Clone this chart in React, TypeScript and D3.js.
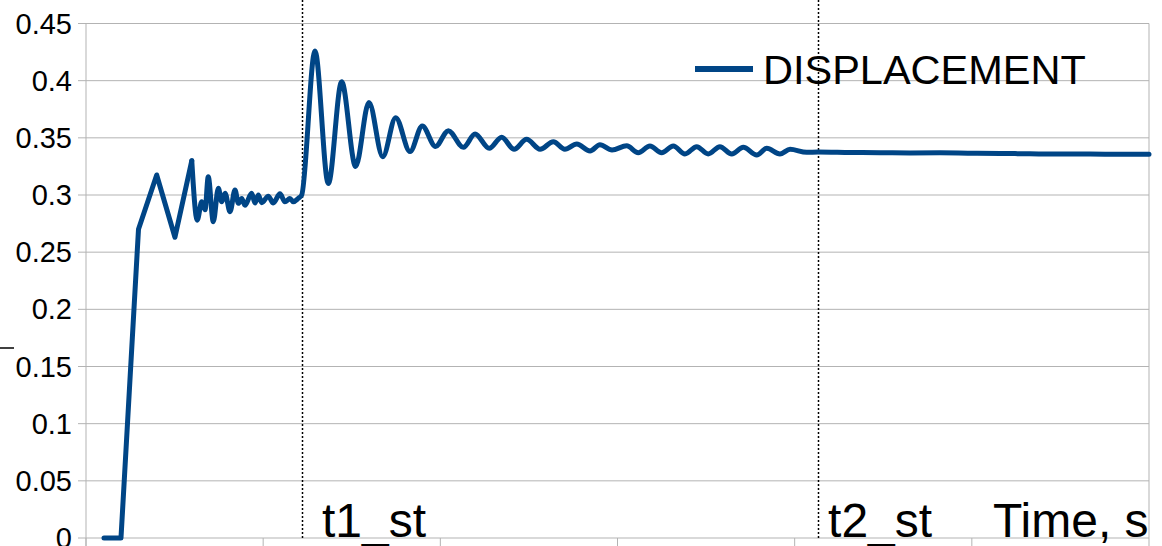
import React from "react";
import * as d3 from "d3";

// ---- data (time in chart units, displacement) ----
const TIME = [
  0.1016, 0.1975, 0.2963, 0.399, 0.502, 0.597,
  0.628, 0.653, 0.672, 0.69, 0.7185, 0.747, 0.766, 0.785, 0.813, 0.841, 0.86, 0.879, 0.897,
  0.935, 0.954, 0.973, 0.992, 1.029, 1.057, 1.095, 1.123, 1.151, 1.17, 1.198, 1.2175,
  1.2925, 1.3676, 1.443, 1.522, 1.597, 1.675, 1.748, 1.829, 1.898, 1.973, 2.045, 2.13,
  2.196, 2.276, 2.346, 2.416, 2.487, 2.563, 2.638, 2.703, 2.77, 2.845, 2.901, 2.969,
  3.052, 3.117, 3.183, 3.249, 3.315, 3.381, 3.447, 3.512, 3.578, 3.645, 3.71, 3.786,
  3.842, 3.917, 3.974, 4.068, 4.132, 4.312, 4.482, 4.651, 4.82, 4.99, 5.159, 5.328,
  5.498, 5.667, 5.836, 6.0,
];
const DISPLACEMENT = [
  0, 0, 0.27, 0.3175, 0.263, 0.33,
  0.278, 0.294, 0.287, 0.316, 0.2767, 0.306, 0.294, 0.3015, 0.2854, 0.3044, 0.2927, 0.297, 0.291,
  0.3015, 0.293, 0.3, 0.2933, 0.299, 0.293, 0.301, 0.294, 0.297, 0.294, 0.297, 0.3,
  0.426, 0.31, 0.399, 0.325, 0.381, 0.3335, 0.3676, 0.338, 0.3604, 0.3425, 0.3563, 0.3417,
  0.3534, 0.3408, 0.3505, 0.34, 0.3487, 0.34, 0.3466, 0.34, 0.3446, 0.3385, 0.344, 0.3394,
  0.343, 0.337, 0.3429, 0.337, 0.3429, 0.3359, 0.3423, 0.3359, 0.3423, 0.3359, 0.3417, 0.335,
  0.3408, 0.3359, 0.34, 0.3373, 0.3376, 0.3372, 0.337, 0.3368, 0.3369, 0.3366, 0.3364, 0.336,
  0.3358, 0.3359, 0.3356, 0.3356,
];
const LINEAR_POINTS = 6; // first points drawn as straight segments
const SERIES_NAME = "DISPLACEMENT";

const Y_TICKS = [0, 0.05, 0.1, 0.15, 0.2, 0.25, 0.3, 0.35, 0.4, 0.45];
const Y_TICK_LABELS = ["0", "0.05", "0.1", "0.15", "0.2", "0.25", "0.3", "0.35", "0.4", "0.45"];
const X_TICKS = [0, 1, 2, 3, 4, 5, 6];

const MARKER_LABELS = ["t1_st", "t2_st"];
const MARKER_TIMES = [1.219, 4.132];
const MARKER_LABEL_GAP = [20, 10];
const AXIS_TITLE = "Time, s";

export default function App() {
  const W = 1162;
  const H = 546;
  const left = 86;
  const right = 1149;
  const top = 23.5;
  const bottom = 538;
  const x = d3.scaleLinear().domain([0, 6]).range([left, right]);
  const y = d3.scaleLinear().domain([0, 0.45]).range([bottom, top]);

  const pts: [number, number][] = TIME.map((t, i) => [t, DISPLACEMENT[i]]);
  const linLine = d3
    .line<[number, number]>()
    .x((d) => x(d[0]))
    .y((d) => y(d[1]))
    .curve(d3.curveLinear);
  const smoothLine = d3
    .line<[number, number]>()
    .x((d) => x(d[0]))
    .y((d) => y(d[1]))
    .curve(d3.curveMonotoneX);

  const grid = "#b3b3b3";
  const blue = "#004586";
  const font = "'Liberation Sans', Arial, sans-serif";

  return (
    <svg
      width={W}
      height={H}
      style={{ position: "absolute", left: 0, top: 0, display: "block", background: "#fff" }}
      fontFamily={font}
    >
      {/* gridlines and y ticks */}
      {Y_TICKS.map((v, i) => (
        <g key={"y" + i}>
          <line x1={left - 8} x2={right} y1={y(v)} y2={y(v)} stroke={grid} strokeWidth={1} />
          <text x={72} y={y(v)} dy="0.35em" textAnchor="end" fontSize={29} fill="#000">
            {Y_TICK_LABELS[i]}
          </text>
        </g>
      ))}
      {/* axes frame */}
      <line x1={left} x2={left} y1={top} y2={H} stroke={grid} strokeWidth={1} />
      <line x1={right} x2={right} y1={top} y2={bottom} stroke={grid} strokeWidth={1} />
      {X_TICKS.map((t, i) => (
        <line key={"x" + i} x1={x(t)} x2={x(t)} y1={bottom} y2={H} stroke={grid} strokeWidth={1} />
      ))}

      {/* marker lines */}
      {MARKER_TIMES.map((t, i) => (
        <g key={"m" + i}>
          <line
            x1={Math.round(x(t)) + 0.5}
            x2={Math.round(x(t)) + 0.5}
            y1={0}
            y2={bottom}
            stroke="#000"
            strokeWidth={1.5}
            strokeDasharray="2 2"
          />
          <text x={x(t) + MARKER_LABEL_GAP[i]} y={537} fontSize={48} fill="#000">
            {MARKER_LABELS[i]}
          </text>
        </g>
      ))}
      <text x={993} y={537} fontSize={48} fill="#000">
        {AXIS_TITLE}
      </text>

      {/* series */}
      <path
        d={linLine(pts.slice(0, LINEAR_POINTS)) || ""}
        fill="none"
        stroke={blue}
        strokeWidth={5}
        strokeLinejoin="round"
        strokeLinecap="round"
      />
      <path
        d={smoothLine(pts.slice(LINEAR_POINTS - 1)) || ""}
        fill="none"
        stroke={blue}
        strokeWidth={5}
        strokeLinejoin="round"
        strokeLinecap="round"
      />

      {/* legend */}
      <line x1={695} x2={753} y1={69} y2={69} stroke={blue} strokeWidth={6} />
      <text x={763} y={83.5} fontSize={41.5} fill="#000">
        {SERIES_NAME}
      </text>

      {/* clipped axis title fragment */}
      <line x1={0} x2={14} y1={348} y2={348} stroke="#000" strokeWidth={1.5} />
    </svg>
  );
}
